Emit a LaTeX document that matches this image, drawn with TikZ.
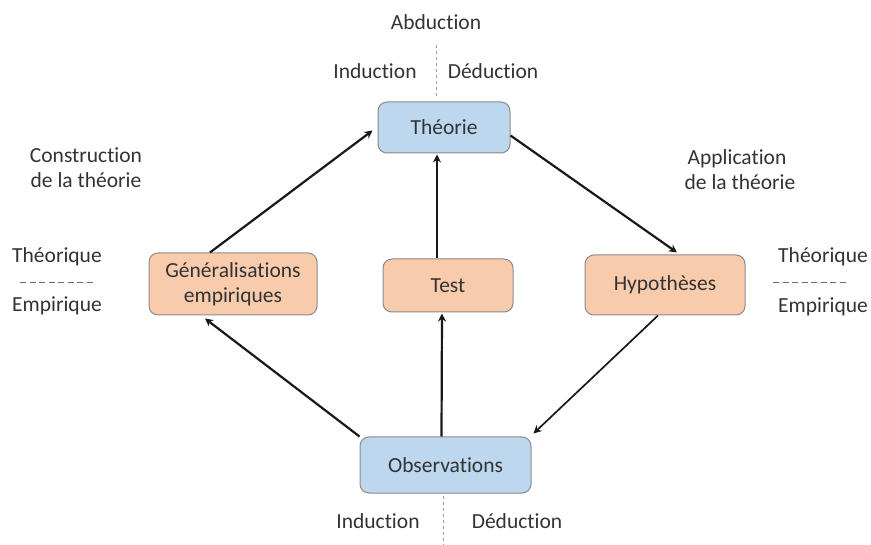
\documentclass[tikz,border=0pt]{standalone}
\usepackage{fontspec}
\setmainfont{Carlito}[Ligatures=NoCommon]
\usetikzlibrary{arrows.meta}
\definecolor{bluefill}{HTML}{BDD7EE}
\definecolor{orangefill}{HTML}{F8CBAD}
\definecolor{boxborder}{HTML}{8A8A8A}
\definecolor{txt}{HTML}{333333}
\definecolor{dashgray}{HTML}{9A9A9A}
\definecolor{hyphgray}{HTML}{6A6A6A}
\begin{document}
\begin{tikzpicture}[x=1pt,y=-1pt,
  font=\fontsize{21.5}{25}\selectfont, text=txt,
  boxbase/.style={draw=boxborder, line width=1pt, rounded corners=9pt, inner sep=0pt, align=center, text=txt},
  bluebox/.style={boxbase, fill=bluefill},
  orangebox/.style={boxbase, fill=orangefill},
  conn/.style={line width=2.2pt, draw=black!90, -{Stealth[length=8pt,width=8pt]}},
  lbl/.style={inner sep=0pt, align=center, text=txt},
  sep/.style={dashgray, dashed, line width=0.9pt},
  hyph/.style={hyphgray, dash pattern=on 6pt off 3.5pt, line width=0.9pt}
]
\useasboundingbox (0,0) rectangle (871,545);

\node[bluebox, minimum width=132pt, minimum height=51pt] (th) at (444,127.5) {Théorie};
\node[orangebox, minimum width=130pt, minimum height=53pt] (test) at (448,285.5) {Test};
\node[orangebox, minimum width=168pt, minimum height=62pt] (gen) at (233,284) {Généralisations\\empiriques};
\node[orangebox, minimum width=160pt, minimum height=60pt] (hyp) at (665,285) {Hypothèses};
\node[bluebox, minimum width=171pt, minimum height=56pt] (obs) at (445.5,465) {Observations};

% connectors
\draw[conn] ([xshift=-23pt]gen.north) -- ([xshift=-5pt,yshift=-3pt]th.west);
\draw[conn] ([yshift=-8pt]th.east) -- ([xshift=12pt,yshift=2pt]hyp.north);
\draw[conn] ([xshift=-11pt]test.north) -- ([xshift=-7pt,yshift=-1pt]th.south);
\draw[conn] ([xshift=-4pt]obs.north) -- ([xshift=-6pt,yshift=-1pt]test.south);
\draw[conn] (obs.north west) -- ([xshift=-28pt,yshift=-3pt]gen.south);
\draw[conn, line width=1.7pt] ([xshift=-7pt]hyp.south) -- ([xshift=2pt,yshift=3pt]obs.north east);

% top labels
\node[lbl] (abd) at (436,22) {Abduction};
\node[lbl] (indt) at (375,71) {Induction};
\node[lbl] (dedt) at (493,71) {Déduction};
\coordinate (tdA) at (436,45);
\coordinate (tdB) at (436,97);
\draw[sep] (tdA) -- (tdB);

% bottom labels
\node[lbl] (indb) at (378,521) {Induction};
\node[lbl] (dedb) at (517,521) {Déduction};
\coordinate (bdA) at (443,496);
\coordinate (bdB) at (443,545);
\draw[sep] (bdA) -- (bdB);

% side labels
\node[lbl] (cons) at (86,168) {Construction\\de la théorie};
\node[lbl] (appl) at (737,170) {Application\\\hspace*{6pt}de la théorie};

\node[lbl] (thl) at (57,257) {Théorique};
\node[lbl] (eml) at (57,306) {Empirique};
\coordinate (ldA) at (20,282);
\coordinate (ldB) at (96,282);
\draw[hyph] (ldA) -- (ldB);

\node[lbl] (thr) at (823,257) {Théorique};
\node[lbl] (emr) at (823,307) {Empirique};
\coordinate (rdA) at (773,282);
\coordinate (rdB) at (849,282);
\draw[hyph] (rdA) -- (rdB);
\end{tikzpicture}
\end{document}
